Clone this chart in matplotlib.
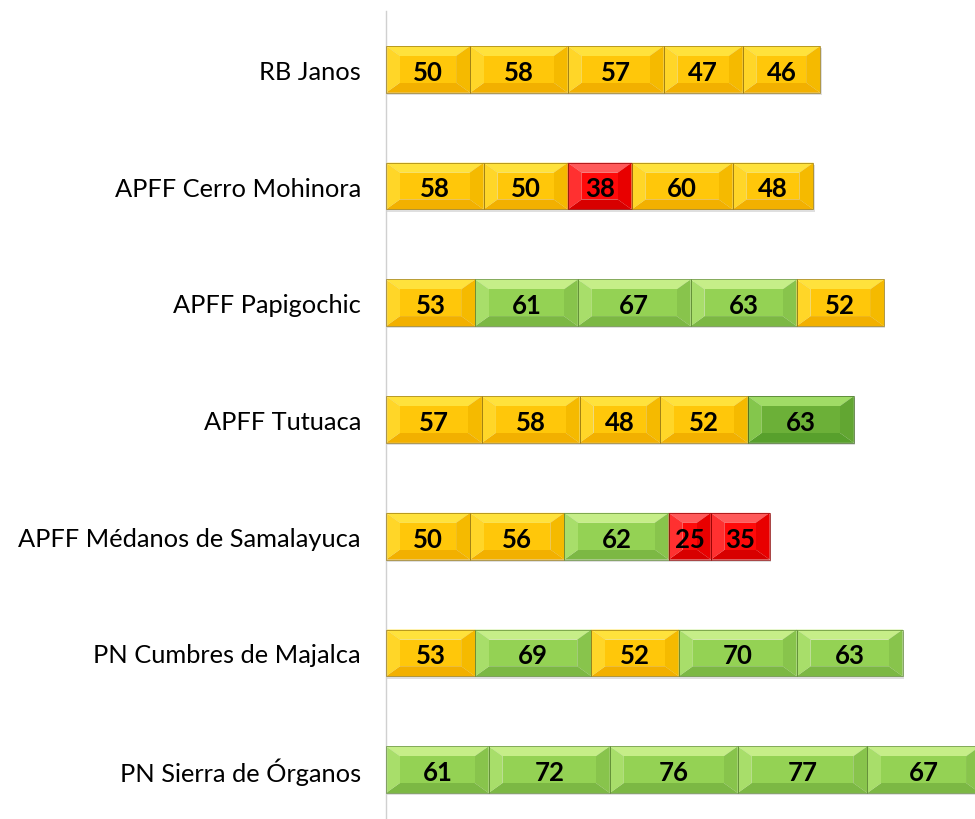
import matplotlib.pyplot as plt
from matplotlib.patches import Polygon
import numpy as np

# data (top to bottom as shown)
areas = ["RB Janos", "APFF Cerro Mohinora", "APFF Papigochic", "APFF Tutuaca",
         "APFF Médanos de Samalayuca", "PN Cumbres de Majalca", "PN Sierra de Órganos"]
scores = [
    [50, 58, 57, 47, 46],
    [58, 50, 38, 60, 48],
    [53, 61, 67, 63, 52],
    [57, 58, 48, 52, 63],
    [50, 56, 62, 25, 35],
    [53, 69, 52, 70, 63],
    [61, 72, 76, 77, 67],
]
# segments drawn in the darker green shade (row, col)
dark_green = [(3, 4)]

# base, top, bottom, left, right, edge
palette = {
    "red":    ["#FF0A0A", "#FF5A5A", "#D80000", "#FF3030", "#E80000", "#900000"],
    "yellow": ["#FFC70A", "#FFE23C", "#F2B000", "#FFD628", "#F5BA00", "#9A7A10"],
    "green":  ["#94D254", "#C6EE88", "#7CB844", "#A8DE6A", "#88C44C", "#5E8A34"],
    "dgreen": ["#6CB038", "#A0DC66", "#58A02C", "#84C64C", "#62A632", "#3E6A1E"],
}


def shade_for(v, r, c):
    if (r, c) in dark_green:
        return "dgreen"
    if v < 40:
        return "red"
    if v <= 60:
        return "yellow"
    return "green"


fig = plt.figure(figsize=(9.75, 8.2), dpi=100)
ax = fig.add_axes([386 / 975, -9 / 820, 1 - 386 / 975, 817 / 820])

n = len(areas)
xmax = 350
ax.set_xlim(0, xmax)
ax.set_ylim(-0.5, n - 0.5)
ax.invert_yaxis()

h = 0.40
# bevel size in data units
bx = 14 * xmax / (975 - 386)
by = 10 * n / 817

for r, row in enumerate(scores):
    left = 0
    for c, v in enumerate(row):
        base, top, bot, lft, rgt, edge = palette[shade_for(v, r, c)]
        x0, x1 = left, left + v
        y0, y1 = r - h / 2, r + h / 2  # y0 is upper edge (inverted axis)
        ix0, ix1 = x0 + bx, x1 - bx
        iy0, iy1 = y0 + by, y1 - by
        # soft shadow
        ax.add_patch(Polygon([(x0 + 0.8, y0 + 0.02), (x1 + 0.8, y0 + 0.02),
                              (x1 + 0.8, y1 + 0.02), (x0 + 0.8, y1 + 0.02)],
                             closed=True, fc="#b0b0b0", ec="none", alpha=0.4, zorder=1))
        ax.add_patch(Polygon([(x0, y0), (x1, y0), (ix1, iy0), (ix0, iy0)],
                             closed=True, fc=top, ec="none", zorder=2))
        ax.add_patch(Polygon([(x0, y1), (x1, y1), (ix1, iy1), (ix0, iy1)],
                             closed=True, fc=bot, ec="none", zorder=2))
        ax.add_patch(Polygon([(x0, y0), (ix0, iy0), (ix0, iy1), (x0, y1)],
                             closed=True, fc=lft, ec="none", zorder=2))
        ax.add_patch(Polygon([(x1, y0), (ix1, iy0), (ix1, iy1), (x1, y1)],
                             closed=True, fc=rgt, ec="none", zorder=2))
        ax.add_patch(Polygon([(ix0, iy0), (ix1, iy0), (ix1, iy1), (ix0, iy1)],
                             closed=True, fc=base, ec="none", zorder=2))
        ax.add_patch(Polygon([(x0, y0), (x1, y0), (x1, y1), (x0, y1)],
                             closed=True, fc="none", ec=edge, lw=0.7, alpha=0.7, zorder=3))
        ax.text((x0 + x1) / 2, r + 0.02, str(v), ha="center", va="center",
                fontsize=18.5, fontweight="bold", family="Lato", color="black", zorder=4)
        left += v

ax.set_yticks(range(n))
ax.set_yticklabels(areas, fontsize=18.3, family="Lato")
ax.tick_params(axis="y", length=0, pad=18)
ax.set_xticks([])
for s in ["top", "right", "bottom"]:
    ax.spines[s].set_visible(False)
ax.spines["left"].set_color("#d0d0d0")
ax.spines["left"].set_linewidth(1.0)

fig.savefig("out.png", dpi=100)
